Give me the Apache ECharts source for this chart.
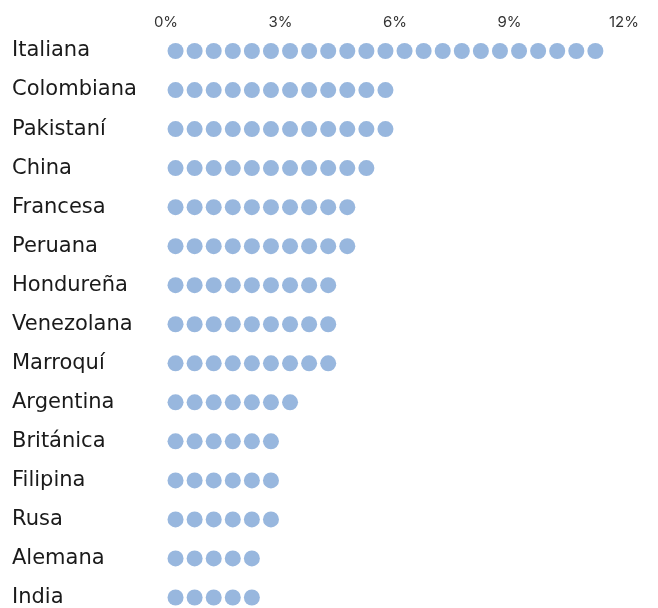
<!DOCTYPE html>
<html>
<head>
    <meta charset="utf-8">
    <title>ECharts</title>
    <script src="https://cdn.jsdelivr.net/npm/echarts@6/dist/echarts.min.js"></script>
    <style>
        body { margin: 0; background: #fff; }
    </style>
</head>
<body>
    <div id="main" style="width: 658px;height:608px;"></div>
    <script type="text/javascript">
        // nacionalidades y porcentaje (cada punto = 0,5%)
        var categories = ['Italiana', 'Colombiana', 'Pakistaní', 'China', 'Francesa', 'Peruana',
            'Hondureña', 'Venezolana', 'Marroquí', 'Argentina', 'Británica', 'Filipina',
            'Rusa', 'Alemana', 'India'];
        var values = [11.5, 6, 6, 5.5, 5, 5, 4.5, 4.5, 4.5, 3.5, 3, 3, 3, 2.5, 2.5];
        var ticks = [0, 3, 6, 9, 12];

        var myChart = echarts.init(document.getElementById('main'));
        var option = {
            animation: false,
            grid: {
                left: 166,
                right: 34,
                top: 51,
                bottom: 7
            },
            xAxis: {
                type: 'value',
                position: 'top',
                min: ticks[0],
                max: ticks[ticks.length - 1],
                interval: 3,
                axisLine: { show: false },
                axisTick: { show: false },
                splitLine: { show: false },
                axisLabel: {
                    margin: 21,
                    color: '#333',
                    fontSize: 15,
                    fontFamily: 'Inter',
                    formatter: '{value}%'
                }
            },
            yAxis: {
                type: 'category',
                inverse: true,
                boundaryGap: false,
                data: categories,
                axisLine: { show: false },
                axisTick: { show: false },
                splitLine: { show: false },
                axisLabel: {
                    align: 'left',
                    margin: 154,
                    color: '#1a1a1a',
                    fontSize: 21,
                    fontFamily: 'DejaVu Sans'
                }
            },
            series: [{
                type: 'pictorialBar',
                data: values,
                symbol: 'circle',
                symbolRepeat: true,
                symbolSize: [16, 16],
                // '!' = hueco también en los extremos, un punto por cada 0,5%
                symbolMargin: '1.6!',
                itemStyle: { color: '#98b7de' }
            }]
        };
        myChart.setOption(option);
    </script>
</body>
</html>
